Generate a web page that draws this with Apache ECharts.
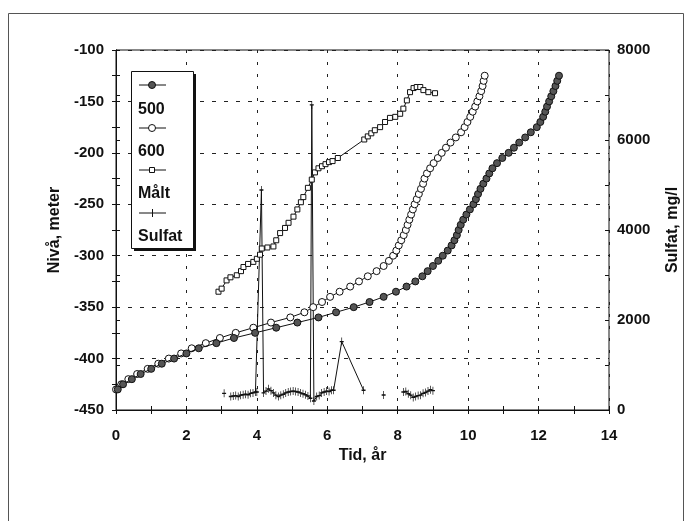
<!DOCTYPE html>
<html>
<head>
<meta charset="utf-8">
<script src="https://cdn.jsdelivr.net/npm/echarts@6/dist/echarts.min.js"></script>
<style>
  html, body { margin: 0; padding: 0; background: #fff; }
  #chart { width: 692px; height: 521px; }
</style>
</head>
<body>
<div id="chart"></div>
<script>
// Nivå (m) mot tid (år) for 500- and 600-series, measured level, and sulfate (mg/l)
const t500 = [0.05, 0.2, 0.45, 0.7, 1.0, 1.3, 1.65, 2.0, 2.35, 2.85, 3.35, 3.95, 4.55, 5.15, 5.75, 6.25,
  6.75, 7.2, 7.6, 7.95, 8.25, 8.5, 8.7, 8.85, 9.0, 9.15, 9.28, 9.42, 9.53, 9.61, 9.68, 9.73, 9.79, 9.86,
  9.95, 10.05, 10.15, 10.22, 10.28, 10.35, 10.43, 10.52, 10.6, 10.69, 10.82, 10.97, 11.15, 11.3, 11.45,
  11.62, 11.78, 11.95, 12.05, 12.13, 12.19, 12.24, 12.3, 12.36, 12.42, 12.48, 12.53, 12.58];
const n500 = [-430, -425, -420, -415, -410, -405, -400, -395, -390, -385, -380, -375, -370, -365, -360, -355,
  -350, -345, -340, -335, -330, -325, -320, -315, -310, -305, -300, -295, -290, -285, -280, -275, -270, -265,
  -260, -255, -250, -245, -240, -235, -230, -225, -220, -215, -210, -205, -200, -195, -190,
  -185, -180, -175, -170, -165, -160, -155, -150, -145, -140, -135, -130, -125];

const t600 = [0.0, 0.15, 0.35, 0.6, 0.9, 1.2, 1.5, 1.85, 2.15, 2.55, 2.95, 3.4, 3.9, 4.4, 4.95, 5.35,
  5.6, 5.85, 6.08, 6.35, 6.65, 6.9, 7.15, 7.4, 7.6, 7.75, 7.87, 7.96, 8.03, 8.1, 8.17, 8.23, 8.28, 8.33,
  8.38, 8.43, 8.48, 8.54, 8.6, 8.66, 8.72, 8.76, 8.83, 8.92, 9.02, 9.14, 9.25, 9.37, 9.5,
  9.65, 9.8, 9.9, 9.98, 10.06, 10.13, 10.2, 10.26, 10.32, 10.37, 10.41, 10.44, 10.47];
const n600 = [-430, -425, -420, -415, -410, -405, -400, -395, -390, -385, -380, -375, -370, -365, -360, -355,
  -350, -345, -340, -335, -330, -325, -320, -315, -310, -305, -300, -295, -290, -285, -280, -275, -270, -265,
  -260, -255, -250, -245, -240, -235, -230, -225, -220, -215, -210, -205, -200, -195, -190,
  -185, -180, -175, -170, -165, -160, -155, -150, -145, -140, -135, -130, -125];

const tMalt = [2.91, 3.0, 3.14, 3.25, 3.43, 3.55, 3.62, 3.75, 3.9, 4.0, 4.09, 4.14, 4.3, 4.47, 4.55, 4.66,
  4.8, 4.9, 5.04, 5.15, 5.25, 5.32, 5.45, 5.56, 5.65, 5.75, 5.85, 5.95, 6.05, 6.15, 6.3, 7.05, 7.15,
  7.25, 7.35, 7.5, 7.64, 7.78, 7.93, 8.07, 8.16, 8.26, 8.35, 8.45, 8.54, 8.64, 8.73, 8.87, 9.06];
const nMalt = [-335, -332, -324, -321, -319, -315, -311, -308, -306, -303, -299, -293, -292, -291, -285, -278,
  -273, -268, -262, -255, -248, -243, -234, -226, -219, -215, -213, -211, -209, -208, -205, -187, -184,
  -181, -178, -175, -170, -166, -165, -162, -157, -149, -141, -137, -136, -136, -139, -141, -142];

// null marks a gap between sampling campaigns
const tSulfat = [3.07, null, 3.26, 3.33, 3.4, 3.47, 3.54, 3.61, 3.68, 3.75, 3.82, 3.89, 3.96, 4.0, 4.13, 4.19,
  4.26, 4.33, 4.4, 4.47, 4.54, 4.61, 4.68, 4.75, 4.82, 4.89, 4.96, 5.03, 5.1, 5.17, 5.24, 5.31, 5.38, 5.45,
  5.52, 5.56, 5.62, 5.7, 5.77, 5.84, 5.91, 5.98, 6.05, 6.12, 6.18, 6.41, 7.03, null, 7.6, null,
  8.16, 8.23, 8.3, 8.37, 8.44, 8.51, 8.58, 8.65, 8.72, 8.79, 8.86, 8.93, 9.0];
const sulfat = [370, null, 300, 310, 320, 300, 330, 340, 350, 340, 370, 380, 400, 400, 4890, 380,
  420, 470, 430, 380, 330, 300, 330, 350, 380, 400, 410, 420, 410, 400, 380, 360, 340, 310,
  260, 6780, 200, 300, 320, 380, 400, 420, 410, 440, 440, 1520, 440, null, 333, null,
  400, 410, 360, 330, 280, 300, 320, 330, 370, 390, 420, 450, 430];

const xTicks = [0, 2, 4, 6, 8, 10, 12, 14];

function pairs(xs, ys) {
  return xs.map((x, i) => (x === null || ys[i] === null) ? [null, null] : [x, ys[i]]);
}

const FONT = 'Liberation Sans';
const INK = '#111';
const plusPath = 'path://M5,0 L5,10 M0,5 L10,5';

const chart = echarts.init(document.getElementById('chart'), null, { renderer: 'canvas' });

const labelStyle = { fontFamily: FONT, fontSize: 15, fontWeight: 'bold', color: INK };
const nameStyle = { fontFamily: FONT, fontSize: 16, fontWeight: 'bold', color: INK };
const legendFont = 'bold 16px "Liberation Sans"';

chart.setOption({
  backgroundColor: '#fff',
  animation: false,
  grid: { left: 116, right: 83, top: 50, bottom: 111, show: true, borderColor: '#111', borderWidth: 1, backgroundColor: 'transparent' },
  xAxis: [
    {
      type: 'value', min: 0, max: 14, interval: 2, position: 'bottom',
      name: 'Tid, år', nameLocation: 'middle', nameGap: 34,
      nameTextStyle: nameStyle,
      axisLine: { lineStyle: { color: '#111', width: 1 } },
      axisTick: { show: true, inside: false, length: 4, lineStyle: { color: '#111' } },
      minorTick: { show: true, splitNumber: 2, length: 4, lineStyle: { color: '#111' } },
      axisLabel: Object.assign({ margin: 18, formatter: v => xTicks.includes(v) ? String(v) : '' }, labelStyle),
      splitLine: { show: true, lineStyle: { color: '#222', type: [3, 9], width: 1 } }
    },
    {
      type: 'value', min: 0, max: 14, interval: 2, position: 'bottom',
      axisLine: { show: false },
      axisTick: { show: true, inside: true, length: 4, lineStyle: { color: '#111' } },
      minorTick: { show: true, splitNumber: 2, length: 4, lineStyle: { color: '#111' } },
      axisLabel: { show: false },
      splitLine: { show: false }
    }
  ],
  yAxis: [
    {
      type: 'value', min: -450, max: -100, interval: 50, position: 'left',
      name: 'Nivå, meter', nameLocation: 'middle', nameGap: 53, nameRotate: 90,
      nameTextStyle: nameStyle,
      axisLine: { show: true, lineStyle: { color: '#111', width: 1 } },
      axisTick: { show: true, inside: false, length: 4, lineStyle: { color: '#111' } },
      minorTick: { show: true, splitNumber: 2, length: 4, lineStyle: { color: '#111' } },
      axisLabel: Object.assign({ margin: 12 }, labelStyle),
      splitLine: { show: true, lineStyle: { color: '#222', type: [4, 8], width: 1 } }
    },
    {
      type: 'value', min: 0, max: 8000, interval: 2000, position: 'right',
      name: 'Sulfat, mg/l', nameLocation: 'middle', nameGap: 56, nameRotate: 90,
      nameTextStyle: nameStyle,
      axisLine: { show: true, lineStyle: { color: '#111', width: 1 } },
      axisTick: { show: true, inside: false, length: 4, lineStyle: { color: '#111' } },
      minorTick: { show: true, splitNumber: 2, length: 4, lineStyle: { color: '#111' } },
      axisLabel: Object.assign({ margin: 8, formatter: v => String(v) }, labelStyle),
      splitLine: { show: false }
    },
    {
      type: 'value', min: -450, max: -100, interval: 50, position: 'left',
      axisLine: { show: false },
      axisTick: { show: true, inside: true, length: 4, lineStyle: { color: '#111' } },
      minorTick: { show: true, splitNumber: 2, length: 4, lineStyle: { color: '#111' } },
      axisLabel: { show: false }, splitLine: { show: false }
    },
    {
      type: 'value', min: 0, max: 8000, interval: 2000, position: 'right',
      axisLine: { show: false },
      axisTick: { show: true, inside: true, length: 4, lineStyle: { color: '#111' } },
      minorTick: { show: true, splitNumber: 2, length: 4, lineStyle: { color: '#111' } },
      axisLabel: { show: false }, splitLine: { show: false }
    }
  ],
  series: [
    {
      name: '500', type: 'line', xAxisIndex: 0, yAxisIndex: 0,
      data: pairs(t500, n500),
      symbol: 'circle', symbolSize: 7, showSymbol: true, showAllSymbol: true,
      lineStyle: { color: '#111', width: 1 },
      itemStyle: { color: '#555', borderColor: '#111', borderWidth: 1 },
      z: 4
    },
    {
      name: '600', type: 'line', xAxisIndex: 0, yAxisIndex: 0,
      data: pairs(t600, n600),
      symbol: 'circle', symbolSize: 7, showSymbol: true, showAllSymbol: true,
      lineStyle: { color: '#111', width: 1 },
      itemStyle: { color: '#fff', borderColor: '#111', borderWidth: 1 },
      z: 3
    },
    {
      name: 'Målt', type: 'line', xAxisIndex: 0, yAxisIndex: 0,
      data: pairs(tMalt, nMalt),
      symbol: 'rect', symbolSize: 5, showSymbol: true, showAllSymbol: true,
      lineStyle: { color: '#111', width: 1 },
      itemStyle: { color: '#fff', borderColor: '#111', borderWidth: 1 },
      z: 3
    },
    {
      name: 'Sulfat', type: 'line', xAxisIndex: 0, yAxisIndex: 1,
      data: pairs(tSulfat, sulfat), connectNulls: false,
      symbol: plusPath, symbolSize: [4, 8], showSymbol: true, showAllSymbol: true,
      lineStyle: { color: '#111', width: 1 },
      itemStyle: { color: 'transparent', borderColor: '#111', borderWidth: 1 },
      z: 2
    }
  ],
  graphic: [
    // outer frame
    { type: 'rect', shape: { x: 8.5, y: 13.5, width: 675, height: 530 }, style: { fill: null, stroke: '#555', lineWidth: 1 }, silent: true, z: 0 },
    // legend box with drop shadow
    { type: 'rect', shape: { x: 134, y: 74, width: 62, height: 177 }, style: { fill: '#111' }, z: 10 },
    { type: 'rect', shape: { x: 131.5, y: 71.5, width: 62, height: 177 }, style: { fill: '#fff', stroke: '#111', lineWidth: 1 }, z: 11 },
    // legend keys
    { type: 'line', shape: { x1: 139, y1: 85, x2: 166, y2: 85 }, style: { stroke: '#111', lineWidth: 1 }, z: 12 },
    { type: 'circle', shape: { cx: 152, cy: 85, r: 3.5 }, style: { fill: '#555', stroke: '#111', lineWidth: 1 }, z: 13 },
    { type: 'text', style: { text: '500', x: 138, y: 110, verticalAlign: 'middle', font: legendFont, fill: INK }, z: 12 },
    { type: 'line', shape: { x1: 139, y1: 128, x2: 166, y2: 128 }, style: { stroke: '#111', lineWidth: 1 }, z: 12 },
    { type: 'circle', shape: { cx: 152, cy: 128, r: 3.5 }, style: { fill: '#fff', stroke: '#111', lineWidth: 1 }, z: 13 },
    { type: 'text', style: { text: '600', x: 138, y: 152, verticalAlign: 'middle', font: legendFont, fill: INK }, z: 12 },
    { type: 'line', shape: { x1: 139, y1: 170, x2: 166, y2: 170 }, style: { stroke: '#111', lineWidth: 1 }, z: 12 },
    { type: 'rect', shape: { x: 149.5, y: 167.5, width: 5, height: 5 }, style: { fill: '#fff', stroke: '#111', lineWidth: 1 }, z: 13 },
    { type: 'text', style: { text: 'Målt', x: 138, y: 194, verticalAlign: 'middle', font: legendFont, fill: INK }, z: 12 },
    { type: 'line', shape: { x1: 139, y1: 213, x2: 166, y2: 213 }, style: { stroke: '#111', lineWidth: 1 }, z: 12 },
    { type: 'line', shape: { x1: 152.5, y1: 209, x2: 152.5, y2: 217 }, style: { stroke: '#111', lineWidth: 1 }, z: 13 },
    { type: 'text', style: { text: 'Sulfat', x: 138, y: 237, verticalAlign: 'middle', font: legendFont, fill: INK }, z: 12 }
  ]
});
</script>
</body>
</html>
